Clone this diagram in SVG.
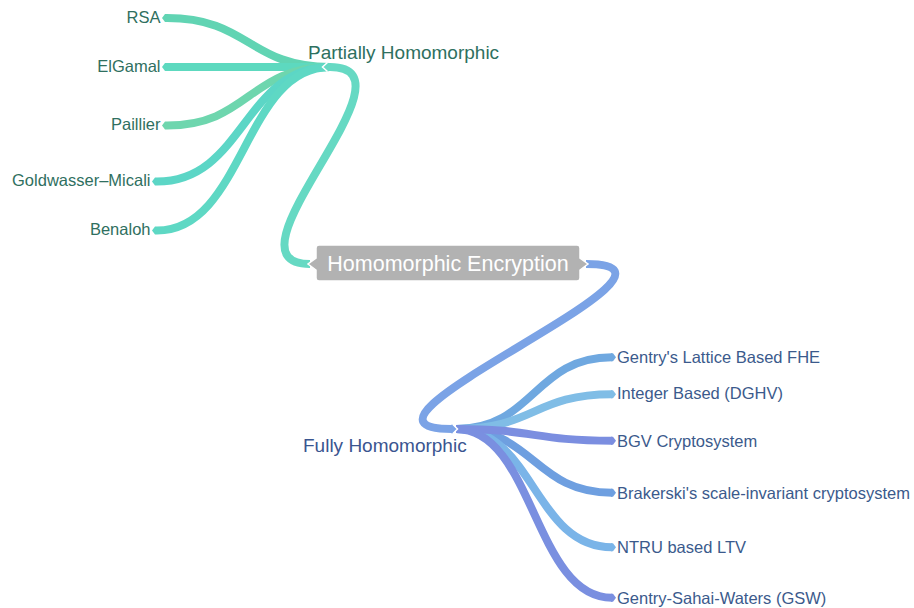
<svg xmlns="http://www.w3.org/2000/svg" width="914" height="608" viewBox="0 0 914 608">
<style>
.lk{fill:none;stroke-width:8;stroke-linecap:butt}
.t{font-family:"Liberation Sans",Arial,sans-serif;font-size:16.5px}
.tl{fill:#2f6f60;text-anchor:end}
.tr{fill:#3b5a8c}
.mid{font-family:"Liberation Sans",Arial,sans-serif;font-size:19px}
.notch{fill:none;stroke:#fff;stroke-width:1.5;stroke-linejoin:miter}
</style>
<rect width="914" height="608" fill="#fff"/>
<g id="connectors">
  <!-- Partially children -->
  <path class="lk" stroke="#61d4b3" d="M330,67 C249,67 249,18 167,18"/>
  <polygon fill="#61d4b3" points="167,14 165,14 162,18 165,22 167,22"/>
  <path class="lk" stroke="#5dd9bf" d="M330,67 C249,67 249,67 167,67"/>
  <polygon fill="#5dd9bf" points="167,63 165,63 162,67 165,71 167,71"/>
  <path class="lk" stroke="#6ed6ae" d="M330,67 C249,67 249,125.5 167,125.5"/>
  <polygon fill="#6ed6ae" points="167,121.5 165,121.5 162,125.5 165,129.5 167,129.5"/>
  <path class="lk" stroke="#5cd6c6" d="M330,67 C244,67 244,181.5 157,181.5"/>
  <polygon fill="#5cd6c6" points="157,177.5 155,177.5 152,181.5 155,185.5 157,185.5"/>
  <path class="lk" stroke="#5ed8c4" d="M330,67 C244,67 244,230.5 157,230.5"/>
  <polygon fill="#5ed8c4" points="157,226.5 155,226.5 152,230.5 155,234.5 157,234.5"/>
  <!-- Fully children -->
  <path class="lk" stroke="#6fa8e0" d="M456,429 C534,429 534,357.3 612,357.3"/>
  <polygon fill="#6fa8e0" points="611,353.3 613,353.3 616,357.3 613,361.3 611,361.3"/>
  <path class="lk" stroke="#80bde6" d="M456,429 C534,429 534,394.3 612,394.3"/>
  <polygon fill="#80bde6" points="611,390.3 613,390.3 616,394.3 613,398.3 611,398.3"/>
  <path class="lk" stroke="#6e9fe0" d="M456,429 C534,429 534,492.7 612,492.7"/>
  <polygon fill="#6e9fe0" points="611,488.7 613,488.7 616,492.7 613,496.7 611,496.7"/>
  <path class="lk" stroke="#7ab4e8" d="M456,429 C534,429 534,547.3 612,547.3"/>
  <polygon fill="#7ab4e8" points="611,543.3 613,543.3 616,547.3 613,551.3 611,551.3"/>
  <path class="lk" stroke="#7b8ee0" d="M456,429 C534,429 534,440.7 612,440.7"/>
  <polygon fill="#7b8ee0" points="611,436.7 613,436.7 616,440.7 613,444.7 611,444.7"/>
  <path class="lk" stroke="#7a8fe0" d="M456,429 C534,429 534,597.7 612,597.7"/>
  <polygon fill="#7a8fe0" points="611,593.7 613,593.7 616,597.7 613,601.7 611,601.7"/>
  <!-- Root to Partially -->
  <path class="lk" stroke="#66d9c3" d="M310,264 C214,264 426,67 330,67"/>
  <polygon fill="#66d9c3" points="331,63 327,63 323,67 327,71 331,71"/>
  <polyline class="notch" points="327.5,62.5 322.5,67 327.5,71.5"/>
  <!-- Root to Fully -->
  <path class="lk" stroke="#7ba3e6" d="M586,264 C726,264 312,429 452,429" stroke-width="8.5"/>
  <polygon fill="#7ba3e6" points="451,424.8 453,424.8 457,429 453,433.2 451,433.2"/>
  <polyline class="notch" points="453,424.5 457.5,429 453,433.5"/>
</g>
<g id="root">
  <path d="M319,245 H577 Q580,245 580,248 V258 L588,264 L580,270 V278 Q580,281 577,281 H319 Q316,281 316,278 V270 L308,264 L316,258 V248 Q316,245 319,245 Z" fill="#b2b2b2" stroke="#fff" stroke-width="1.5"/>
  <text x="448" y="271" text-anchor="middle" fill="#fff" font-family="Liberation Sans, Arial, sans-serif" font-size="21.5">Homomorphic Encryption</text>
</g>
<g id="partially">
  <text class="mid" x="308" y="59" fill="#2e7060">Partially Homomorphic</text>
</g>
<g id="fully">
  <text class="mid" x="303" y="451.5" fill="#3a5590">Fully Homomorphic</text>
</g>
<g id="rsa"><text class="t tl" x="160.5" y="22.7">RSA</text></g>
<g id="elgamal"><text class="t tl" x="160.5" y="72.2">ElGamal</text></g>
<g id="paillier"><text class="t tl" x="160.5" y="130.2">Paillier</text></g>
<g id="goldwasser"><text class="t tl" x="150.5" y="186.2">Goldwasser–Micali</text></g>
<g id="benaloh"><text class="t tl" x="150.5" y="235.2">Benaloh</text></g>
<g id="gentry"><text class="t tr" x="617" y="363">Gentry's Lattice Based FHE</text></g>
<g id="integer"><text class="t tr" x="617" y="399">Integer Based (DGHV)</text></g>
<g id="bgv"><text class="t tr" x="617" y="446.5">BGV Cryptosystem</text></g>
<g id="brakerski"><text class="t tr" x="617" y="498.5">Brakerski's scale-invariant cryptosystem</text></g>
<g id="ntru"><text class="t tr" x="617" y="553">NTRU based LTV</text></g>
<g id="gsw"><text class="t tr" x="617" y="603.5">Gentry-Sahai-Waters (GSW)</text></g>
</svg>
